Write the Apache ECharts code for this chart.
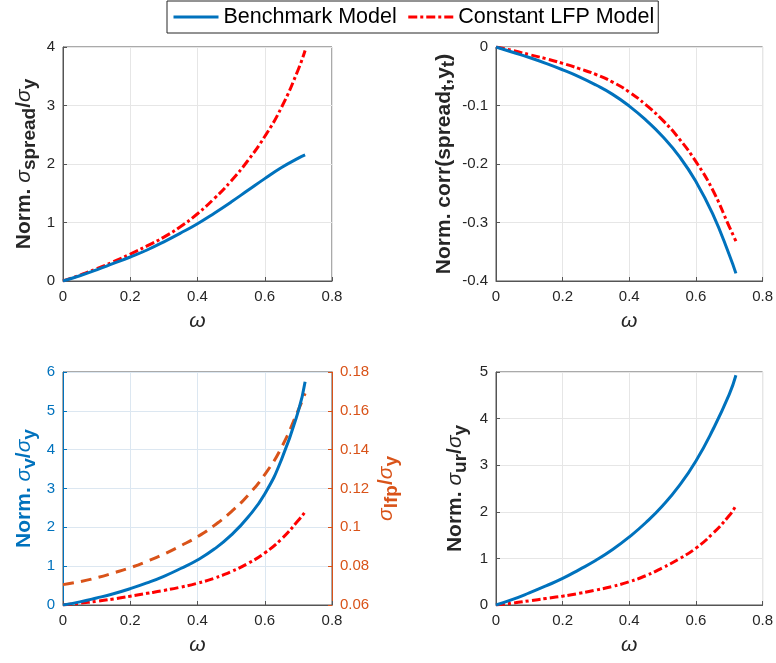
<!DOCTYPE html>
<html><head><meta charset="utf-8">
<script src="https://cdn.jsdelivr.net/npm/echarts@6/dist/echarts.min.js"></script>
<style>html,body{margin:0;padding:0;background:#fff}#c{width:776px;height:663px}</style>
</head><body><div id="c"></div>
<script>
// omega grid (x values)
const omega = [0,0.05,0.1,0.15,0.2,0.25,0.3,0.35,0.4,0.45,0.5,0.55,0.6,0.65,0.7,0.72];
// Panel 1: Norm. sigma_spread / sigma_y
const spreadBench = [0,0.09,0.19,0.30,0.41,0.53,0.67,0.82,0.98,1.16,1.35,1.55,1.75,1.94,2.10,2.155];
const spreadLFP   = [0,0.10,0.21,0.33,0.46,0.60,0.75,0.93,1.15,1.41,1.71,2.06,2.47,2.97,3.62,3.94];
// Panel 2: Norm. corr(spread_t, y_t)
const corrBench = [0,-0.009,-0.018,-0.028,-0.039,-0.051,-0.065,-0.081,-0.101,-0.125,-0.153,-0.187,-0.230,-0.285,-0.355,-0.387];
const corrLFP   = [0,-0.006,-0.013,-0.020,-0.028,-0.037,-0.047,-0.060,-0.077,-0.099,-0.125,-0.157,-0.196,-0.244,-0.307,-0.332];
// Panel 3: Norm. sigma_v / sigma_y (left) and sigma_lfp / sigma_y (right)
const vBench = [0,0.08,0.18,0.29,0.42,0.57,0.74,0.94,1.16,1.44,1.80,2.26,2.86,3.75,5.00,5.75];
const vLFP   = [0,0.045,0.095,0.155,0.225,0.30,0.375,0.46,0.56,0.69,0.86,1.07,1.34,1.70,2.18,2.40];
const lfpSigma = [0.0705,0.0720,0.0740,0.0765,0.0792,0.0825,0.0862,0.0905,0.0952,0.1010,0.1080,0.1165,0.1272,0.1412,0.1605,0.1690];
// Panel 4: Norm. sigma_ur / sigma_y
const urBench = [0,0.12,0.26,0.41,0.57,0.76,0.96,1.19,1.46,1.77,2.13,2.56,3.09,3.75,4.52,4.93];
const urLFP   = [0,0.04,0.09,0.14,0.19,0.25,0.32,0.40,0.50,0.63,0.80,0.99,1.22,1.53,1.92,2.13];

const FONT = '"Liberation Sans", Arial, Helvetica, sans-serif';
const BLUE = '#0072BD', RED = '#FF0000', ORANGE = '#D95319', DARK = '#262626', AX = '#555555';

function pts(arr){ return omega.map((x,i)=>[x, arr[i]]); }
function rich(color){
  return {
    n:{fontSize:21,fontWeight:'bold',color:color,fontFamily:FONT},
    g:{fontSize:21,fontStyle:'italic',fontWeight:'normal',color:color,fontFamily:FONT},
    s:{fontSize:19,fontWeight:'bold',color:color,fontFamily:FONT,padding:[10,0,0,0]}
  };
}
function xAx(grid){
  return {type:'value',gridIndex:grid,min:0,max:0.8,interval:0.2,
    name:'ω',nameLocation:'middle',nameGap:30,
    nameTextStyle:{fontSize:21,fontStyle:'italic',color:DARK,fontFamily:FONT},
    axisLine:{show:true,onZero:false,lineStyle:{color:AX,width:1}},
    axisTick:{show:true,inside:true,length:4,lineStyle:{color:AX}},
    axisLabel:{fontSize:15,color:DARK,margin:8,fontFamily:FONT},
    splitLine:{show:true,lineStyle:{color:grid===2?'#dce7f1':'#e6e6e6',width:1}}};
}
function yAx(grid,min,max,interval,nameText,color,gap,opts){
  const o = {type:'value',gridIndex:grid,min:min,max:max,interval:interval,
    name:nameText,nameLocation:'middle',nameGap:gap,nameRotate:90,
    nameTextStyle:{rich:rich(color),color:color},
    axisLine:{show:true,onZero:false,lineStyle:{color:color===DARK?AX:color,width:1}},
    axisTick:{show:true,inside:true,length:4,lineStyle:{color:color===DARK?AX:color}},
    axisLabel:{fontSize:15,color:color,margin:8,fontFamily:FONT},
    splitLine:{show:true,lineStyle:{color:grid===2?'#dce7f1':'#e6e6e6',width:1}}};
  return Object.assign(o, opts||{});
}
function line(name,x,y,data,color,type,width){
  return {name:name,type:'line',xAxisIndex:x,yAxisIndex:y,data:pts(data),
    symbol:'none',showSymbol:false,smooth:0.5,
    lineStyle:{color:color,width:width||3,type:type||'solid'},itemStyle:{color:color},
    emphasis:{disabled:true},z:type==='solid'?3:2};
}
const DASHDOT = [9,3,3,3];
const DASH = [11,7];
const gridBox = {show:true,borderColor:AX,borderWidth:1,backgroundColor:'transparent'};

const chart = echarts.init(document.getElementById('c'),null,{renderer:'canvas'});
chart.setOption({
  animation:false,
  backgroundColor:'#fff',
  legend:{data:['Benchmark Model','Constant LFP Model'],left:167,top:1,orient:'horizontal',
    itemWidth:45,itemHeight:14,itemGap:10,padding:[5,4,5,5],
    itemStyle:{opacity:0},lineStyle:{width:3},
    borderColor:DARK,borderWidth:1,backgroundColor:'#fff',
    textStyle:{fontSize:21.5,color:'#000',fontFamily:FONT}},
  grid:[
    Object.assign({left:63,top:47,width:269,height:234},gridBox),
    Object.assign({left:496,top:47,width:268,height:234},gridBox),
    Object.assign({left:63,top:372,width:269,height:233},gridBox),
    Object.assign({left:496,top:372,width:268,height:233},gridBox)
  ],
  xAxis:[xAx(0),xAx(1),xAx(2),xAx(3)],
  yAxis:[
    yAx(0,0,4,1,'{n|Norm. }{g|σ}{s|spread}{n|/}{g|σ}{s|y}',DARK,24),
    yAx(1,-0.4,0,0.1,'{n|Norm. corr(spread}{s|t}{n|,y}{s|t}{n|)}',DARK,32),
    yAx(2,0,6,1,'{n|Norm. }{g|σ}{s|v}{n|/}{g|σ}{s|y}',BLUE,24,{position:'left'}),
    yAx(2,0.06,0.18,0.02,'{g|σ}{s|lfp}{n|/}{g|σ}{s|y}',ORANGE,40,{position:'right',splitLine:{show:false}}),
    yAx(3,0,5,1,'{n|Norm. }{g|σ}{s|ur}{n|/}{g|σ}{s|y}',DARK,26)
  ],
  series:[
    line('Benchmark Model',0,0,spreadBench,BLUE,'solid'),
    line('Constant LFP Model',0,0,spreadLFP,RED,DASHDOT),
    line('Benchmark Model',1,1,corrBench,BLUE,'solid'),
    line('Constant LFP Model',1,1,corrLFP,RED,DASHDOT),
    line('Benchmark Model',2,2,vBench,BLUE,'solid'),
    line('Constant LFP Model',2,2,vLFP,RED,DASHDOT),
    line('sigma_lfp',2,3,lfpSigma,ORANGE,DASH),
    line('Benchmark Model',3,4,urBench,BLUE,'solid'),
    line('Constant LFP Model',3,4,urLFP,RED,DASHDOT)
  ]
});
</script></body></html>
